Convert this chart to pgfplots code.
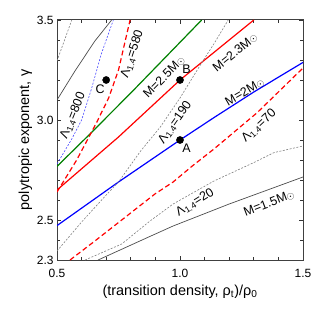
\documentclass[border=0pt]{standalone}
\usepackage{pgfplots}
\pgfplotsset{compat=1.18}
\usepackage{fontspec}
\setmainfont{Liberation Sans}
\definecolor{dgreen}{RGB}{0,128,0}
\newcommand{\sun}{{\fontsize{10}{10}\selectfont$\odot$}}
\newcommand{\La}[1]{Λ\textsubscript{1.4}=#1}
\begin{document}
\begin{tikzpicture}
\useasboundingbox (-57bp,-54bp) rectangle (257bp,260bp);
\begin{axis}[
  width=246bp, height=240bp, scale only axis,
  xmin=0.5, xmax=1.5, ymin=2.3, ymax=3.5,
  xtick={0.5,1.0,1.5}, xticklabels={0.5,1.0,1.5},
  ytick={2.3,2.5,3.0,3.5}, yticklabels={2.3,2.5,3.0,3.5},
  minor xtick={0.6,0.7,0.8,0.9,1.1,1.2,1.3,1.4},
  minor ytick={2.4,2.6,2.7,2.8,2.9,3.1,3.2,3.3,3.4},
  tick align=inside, major tick length=4bp, minor tick length=3bp,
  tick style={black!80, line width=0.8bp},
  axis line style={line width=1bp, black!75},
  ticklabel style={font=\fontsize{12}{12}\selectfont},
  xticklabel style={yshift=-6bp},
  xlabel={(transition density, ρ\textsubscript{t})/ρ\textsubscript{0}},
  ylabel={polytropic exponent, γ},
  label style={font=\fontsize{14.5}{15}\selectfont},
  x label style={at={(axis description cs:0.5,-0.133)}, anchor=center},
  y label style={at={(axis description cs:-0.128,0.5)}, anchor=center},
]
% M = 2.5 Msun (green)
\addplot[dgreen, line width=1.2bp] coordinates {(0.5,2.768)(0.634,2.93)(0.8,3.135)(1.088,3.5)};
% M = 2.3 Msun (red)
\addplot[red, line width=1.2bp] coordinates {(0.5,2.65)(0.75,2.915)(1.0,3.2)(1.15,3.35)(1.30,3.5)};
% M = 2 Msun (blue)
\addplot[blue, line width=1.2bp] coordinates {(0.5,2.472)(0.75,2.69)(1.0,2.90)(1.138,3.012)(1.3,3.14)(1.5,3.288)};
% M = 1.5 Msun
\addplot[black!70, line width=0.7bp] coordinates {(0.667,2.3)(0.878,2.418)(0.972,2.47)(1.2,2.58)(1.5,2.715)};
% Lambda 800 (solid black)
\addplot[black!70, line width=0.7bp] coordinates {(0.5,3.10)(0.573,3.245)(0.654,3.395)(0.722,3.5)};
% gray dashed top-left
\addplot[gray, line width=0.6bp, dash pattern=on 2bp off 1.5bp] coordinates {(0.5,3.295)(0.56,3.5)};
% blue dotted
\addplot[blue!70, line width=0.6bp, dash pattern=on 2bp off 1.5bp] coordinates {(0.5,2.78)(0.56,2.905)(0.6,3.0)(0.64,3.155)(0.68,3.33)(0.729,3.5)};
% Lambda 580 red dashed
\addplot[red, line width=1.2bp, dash pattern=on 5bp off 3bp] coordinates {(0.5,2.64)(0.58,2.80)(0.66,2.985)(0.71,3.11)(0.75,3.25)(0.797,3.5)};
% Lambda 190 gray dashed
\addplot[gray, line width=0.6bp, dash pattern=on 2bp off 1.5bp] coordinates {(0.5,2.345)(0.6,2.49)(0.7,2.625)(0.75,2.69)(0.84,2.845)(0.92,2.965)(1.0,3.11)(1.08,3.27)(1.14,3.385)(1.196,3.5)};
% Lambda 70 red dashed
\addplot[red, line width=1.2bp, dash pattern=on 5bp off 3bp] coordinates {(0.553,2.3)(0.654,2.395)(0.763,2.50)(0.898,2.63)(0.972,2.69)(1.05,2.77)(1.138,2.855)(1.314,3.037)(1.5,3.26)};
% Lambda 20 gray dashed
\addplot[gray, line width=0.6bp, dash pattern=on 2bp off 1.5bp] coordinates {(0.614,2.3)(0.763,2.38)(0.878,2.495)(0.972,2.58)(1.138,2.695)(1.30,2.787)(1.382,2.837)(1.5,2.87)};
% points A, B, C
\addplot[only marks, mark=*, mark size=3.6bp, black] coordinates {(1.0,2.9)(1.0,3.2)(0.7,3.2)};
% labels
\begin{scope}[every node/.style={font=\fontsize{12.5}{12.5}\selectfont, inner sep=0pt, anchor=center}]
\node[rotate=68] at (axis cs:0.565,3.02) {\La{800}};
\node at (axis cs:0.675,3.153) {C};
\node[rotate=72] at (axis cs:0.806,3.33) {\La{580}};
\node[rotate=45] at (axis cs:0.935,3.215) {M=2.5M\sun};
\node at (axis cs:1.027,3.254) {B};
\node[rotate=39] at (axis cs:1.224,3.337) {M=2.3M\sun};
\node[rotate=55] at (axis cs:0.98,2.987) {\La{190}};
\node[rotate=30] at (axis cs:1.263,3.14) {M=2M\sun};
\node at (axis cs:1.027,2.857) {A};
\node[rotate=43] at (axis cs:1.321,2.97) {\La{70}};
\node[rotate=32] at (axis cs:1.061,2.587) {\La{20}};
\node[rotate=21] at (axis cs:1.362,2.583) {M=1.5M\sun};
\end{scope}
\end{axis}
\end{tikzpicture}
\end{document}
